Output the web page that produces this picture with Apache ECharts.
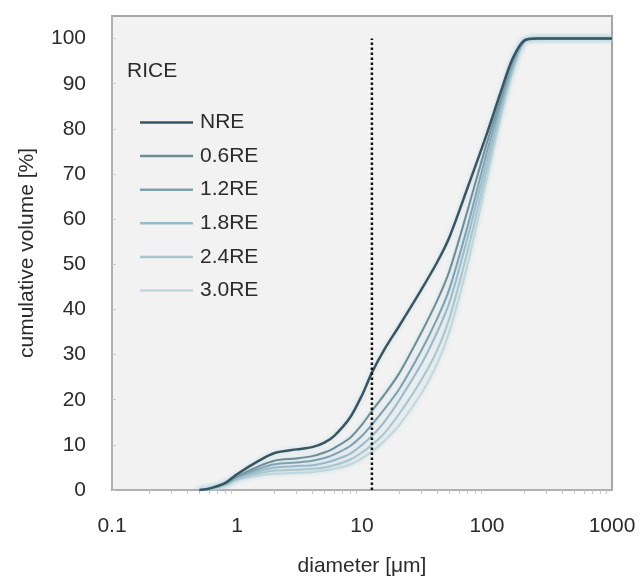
<!DOCTYPE html>
<html>
<head>
<meta charset="utf-8">
<script src="https://cdn.jsdelivr.net/npm/echarts@6/dist/echarts.min.js"></script>
<style>html,body{margin:0;padding:0;background:#fff}#c{width:643px;height:584px}</style>
</head>
<body>
<div id="c"></div>
<script>
const diam = [0.5, 0.6, 0.8, 1, 1.5, 2, 3, 4, 5, 6, 8, 10, 12, 15, 20, 30, 40, 50, 70, 100, 130, 160, 200, 250, 400, 700, 1000];
const seriesNames = ['NRE', '0.6RE', '1.2RE', '1.8RE', '2.4RE', '3.0RE'];
const NRE  = [0, 0.3, 1.5, 3.5, 6.5, 8.2, 9.0, 9.5, 10.5, 12.0, 16.0, 21.0, 26.0, 31.0, 36.5, 44.5, 50.5, 56.0, 67.0, 79.0, 88.5, 95.5, 99.6, 100, 100, 100, 100];
const RE06 = [0, 0.3, 1.4, 3.0, 5.3, 6.5, 7.0, 7.5, 8.3, 9.3, 11.5, 14.5, 17.5, 21.0, 26.0, 35.0, 42.0, 48.5, 62.0, 77.0, 87.0, 95.0, 99.7, 100, 100, 100, 100];
const RE12 = [0, 0.3, 1.3, 2.8, 4.7, 5.7, 6.1, 6.5, 7.1, 7.9, 9.7, 12.0, 14.5, 17.8, 22.5, 31.0, 38.0, 44.5, 58.5, 75.0, 86.0, 94.0, 99.5, 100, 100, 100, 100];
const RE18 = [0, 0.3, 1.2, 2.6, 4.2, 5.0, 5.3, 5.5, 6.0, 6.6, 8.0, 10.0, 12.0, 15.0, 20.0, 28.0, 35.0, 41.5, 56.0, 73.0, 85.0, 93.5, 99.5, 100, 100, 100, 100];
const RE24 = [0, 0.3, 1.1, 2.4, 3.7, 4.3, 4.5, 4.7, 5.0, 5.5, 6.7, 8.3, 10.0, 12.5, 17.0, 24.5, 31.0, 38.0, 53.0, 71.0, 84.0, 93.0, 99.5, 100, 100, 100, 100];
const RE30 = [0, 0.3, 1.0, 2.2, 3.2, 3.6, 3.8, 4.0, 4.3, 4.7, 5.6, 7.0, 8.5, 10.8, 14.5, 21.5, 28.0, 35.0, 50.0, 69.0, 83.0, 92.5, 99.5, 100, 100, 100, 100];
const allValues = [NRE, RE06, RE12, RE18, RE24, RE30];
const cutX = [12, 12];
const cutY = [0, 100];
const xTicks = [0.1, 1, 10, 100, 1000];
const yTicks = [0, 10, 20, 30, 40, 50, 60, 70, 80, 90, 100];

const colors = ['#3b5560', '#6f8c94', '#7e9fb0', '#9bb9c9', '#a9c6cb', '#c3d7dc'];
const widths = [2.5, 2, 2, 2, 2, 2];
const FONT = 'Liberation Sans, Arial, sans-serif';
const TXT = '#2b2b2b';

const series = seriesNames.map((n, i) => ({
  name: n,
  type: 'line',
  smooth: 0.3,
  symbol: 'none',
  z: 10 - i,
  lineStyle: {color: colors[i], width: widths[i], shadowColor: 'rgba(170,210,225,0.6)', shadowBlur: 4},
  itemStyle: {color: colors[i]},
  data: diam.map((d, k) => [d, allValues[i][k]])
}));
series.push({
  name: 'cut',
  type: 'line',
  symbol: 'none',
  z: 20,
  lineStyle: {color: '#111', width: 2.5, type: [2.5, 2.5]},
  data: cutX.map((x, k) => [x, cutY[k]])
});

const chart = echarts.init(document.getElementById('c'), null, {renderer: 'canvas'});
chart.setOption({
  backgroundColor: '#fff',
  animation: false,
  textStyle: {fontFamily: FONT},
  title: {
    text: 'RICE', left: 127, top: 61, padding: 0,
    textStyle: {fontSize: 21, fontWeight: 'normal', color: TXT, fontFamily: FONT}
  },
  legend: {
    data: seriesNames,
    orient: 'vertical',
    left: 140, top: 112, padding: 0,
    icon: 'rect',
    itemWidth: 53, itemHeight: 2.5, itemGap: 12.6,
    textStyle: {fontSize: 21, color: TXT, lineHeight: 19, fontFamily: FONT, padding: [0, 0, 0, 2]}
  },
  grid: {
    left: 112, right: 31, top: 16, bottom: 94,
    show: true, backgroundColor: '#f2f2f2', borderColor: '#a6a6a6', borderWidth: 2
  },
  xAxis: {
    type: 'log', logBase: 10, min: 0.1, max: 1000,
    name: 'diameter [μm]', nameLocation: 'middle', nameGap: 66,
    nameTextStyle: {fontSize: 21, color: TXT, fontFamily: FONT},
    axisLine: {lineStyle: {color: '#b0b0b0', width: 2}},
    axisTick: {show: false},
    minorTick: {show: true, splitNumber: 9, length: 4, lineStyle: {color: '#c8c8c8'}},
    splitLine: {show: false},
    axisLabel: {
      fontSize: 21, color: TXT, margin: 26, fontFamily: FONT,
      formatter: v => { const t = xTicks.find(q => Math.abs(q - v) / q < 1e-6); return t === undefined ? '' : String(t); }
    }
  },
  yAxis: {
    type: 'value', min: 0, max: 105, interval: 10,
    name: 'cumulative volume [%]', nameLocation: 'middle', nameGap: 74,
    nameTextStyle: {fontSize: 21, color: TXT, fontFamily: FONT},
    axisLine: {show: true, lineStyle: {color: '#b0b0b0', width: 2}},
    axisTick: {show: true, inside: true, length: 4, lineStyle: {color: '#c8c8c8'}},
    splitLine: {show: false},
    axisLabel: {
      fontSize: 21, color: TXT, margin: 26, showMaxLabel: false, fontFamily: FONT,
      formatter: v => yTicks.includes(v) ? String(v) : ''
    }
  },
  series: series
});
</script>
</body>
</html>
